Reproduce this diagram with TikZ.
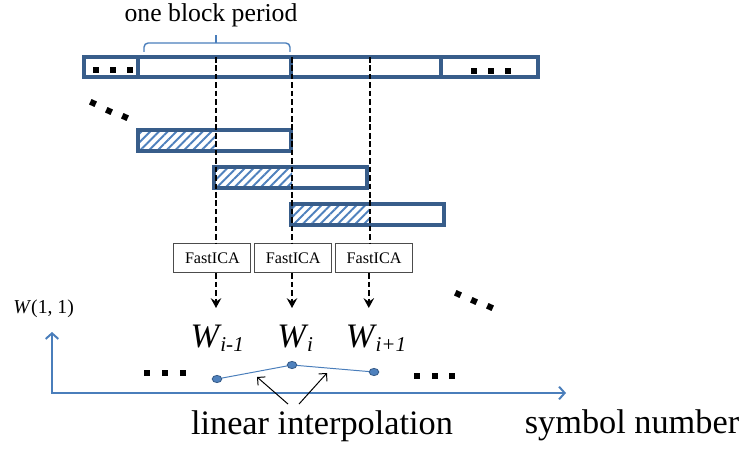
\documentclass[tikz,border=0pt]{standalone}
\usepackage{fontspec}
\setmainfont{Liberation Serif}
\usepackage{tikz}
\usetikzlibrary{shapes,positioning,calc,patterns.meta,decorations.pathreplacing,arrows.meta}
\definecolor{barblue}{RGB}{56,93,138}
\definecolor{lineblue}{RGB}{74,126,187}
\definecolor{hatchblue}{RGB}{79,129,189}

\tikzset{
    blockbar/.style={draw=barblue, line width=2.4pt},
    hatched/.style={pattern={Lines[angle=45,distance=4.4pt,line width=1.4pt]}, pattern color=hatchblue},
    sqdot/.style={fill=black, minimum size=0.15cm, inner sep=0pt},
    icabox/.style={draw=black!70, line width=0.6pt, minimum width=1.925cm, minimum height=0.725cm, inner sep=0pt, font=\fontsize{11.5}{13}\selectfont},
    guide/.style={line width=1.4pt, dash pattern=on 4pt off 2pt},
    wpoint/.style={ellipse, fill=hatchblue, draw=barblue, line width=0.6pt, minimum width=0.24cm, minimum height=0.18cm, inner sep=0pt},
    axisline/.style={draw=lineblue, line width=1.4pt},
    bigtext/.style={font=\fontsize{24.4}{28}\selectfont},
}

\begin{document}
\begin{tikzpicture}
    \useasboundingbox (0,0) rectangle (18.625,11.2);

    % Top row of blocks
    \draw[blockbar] (2.1,9.275) rectangle (3.45,9.775);
    \draw[blockbar] (3.45,9.275) rectangle (7.275,9.775);
    \draw[blockbar] (7.275,9.275) rectangle (11.025,9.775);
    \draw[blockbar] (11.025,9.275) rectangle (13.45,9.775);
    \foreach \x in {2.4,2.825,3.25} \node[sqdot] at (\x,9.45) {};
    \foreach \x in {11.85,12.275,12.7} \node[sqdot] at (\x,9.425) {};

    % Block period
    \draw[lineblue, line width=1pt, rounded corners=3pt] (3.6,9.9) -- (3.6,10.125) -- (7.25,10.125) -- (7.25,9.9);
    \draw[lineblue, line width=1pt] (5.4,10.125) -- (5.4,10.325);
    \node[font=\fontsize{18.3}{22}\selectfont] (period) at (5.275,10.825) {one block period};

    % Sliding windows
    \foreach \x/\y in {3.45/7.425, 5.35/6.5, 7.275/5.575} {
        \fill[hatched] (\x,\y) rectangle ++(1.95,0.525);
        \draw[blockbar] (\x,\y) rectangle ++(3.825,0.525);
    }
    \foreach \x/\y in {2.325/8.625, 2.725/8.425, 3.125/8.275}
        \node[sqdot, rotate=-25] at (\x,\y) {};

    % FastICA stages
    \node[icabox] (ica1) at (5.31,4.74) {FastICA};
    \node[icabox, right=0.075cm of ica1] (ica2) {FastICA};
    \node[icabox, right=0.075cm of ica2] (ica3) {FastICA};

    \coordinate (s1) at (5.4,9.775);
    \coordinate (s2) at (7.3,9.775);
    \coordinate (s3) at (9.25,9.775);
    \draw[guide] (s1) -- (s1 |- ica1.north);
    \draw[guide] (s2) -- (s2 |- ica2.north);
    \draw[guide] (s3) -- (s3 |- ica3.north);

    \coordinate (t1) at (5.4,3.5);
    \coordinate (t2) at (7.3,3.5);
    \coordinate (t3) at (9.22,3.5);
    \draw[guide, -{Stealth[length=7pt,width=7.5pt,inset=2.5pt]}] (t1 |- ica1.south) -- (t1);
    \draw[guide, -{Stealth[length=7pt,width=7.5pt,inset=2.5pt]}] (t2 |- ica2.south) -- (t2);
    \draw[guide, -{Stealth[length=7pt,width=7.5pt,inset=2.5pt]}] (t3 |- ica3.south) -- (t3);

    % Estimated matrices
    \node[bigtext] (W1) at (5.43,2.75) {\textit{W}\kern-1pt\raisebox{-3pt}{\fontsize{15}{15}\selectfont\textit{i-1}}};
    \node[bigtext] (W2) at (7.38,2.75) {\textit{W}\kern-1pt\raisebox{-3pt}{\fontsize{15}{15}\selectfont\textit{i}}};
    \node[bigtext] (W3) at (9.4,2.75) {\textit{W}\kern-1pt\raisebox{-3pt}{\fontsize{15}{15}\selectfont\textit{i+1}}};
    \foreach \x/\y in {11.45/3.85, 11.85/3.675, 12.25/3.525}
        \node[sqdot, rotate=-25] at (\x,\y) {};

    % Axes
    \coordinate (origin) at (1.3,1.375);
    \coordinate (yend) at (1.3,2.9);
    \coordinate (xend) at (14.15,1.375);
    \draw[axisline, {Straight Barb[length=4pt,width=9pt]}-{Straight Barb[length=4pt,width=9pt]}] (yend) -- (origin) -- (xend);
    \node[font=\fontsize{14}{16}\selectfont] (wlabel) at (1.09,3.475) {\textit{W}(1, 1)};
    \node[bigtext, anchor=base] (symnum) at (15.8,0.37) {symbol number};

    % Interpolated points
    \node[wpoint] (p1) at (5.425,1.725) {};
    \node[wpoint] (p2) at (7.3,2.075) {};
    \node[wpoint] (p3) at (9.35,1.9) {};
    \draw[lineblue, line width=0.7pt] (p1) -- (p2) -- (p3);
    \foreach \x in {3.675,4.125,4.575} \node[sqdot, minimum size=0.17cm] at (\x,1.875) {};
    \foreach \x in {10.425,10.875,11.3} \node[sqdot, minimum size=0.17cm] at (\x,1.8) {};

    \node[bigtext, anchor=base] (interp) at (8.05,0.33) {linear interpolation};
    \coordinate (a1) at (6.425,1.775);
    \coordinate (a2) at (8.175,1.875);
    \draw[line width=0.7pt, -{Straight Barb[length=4pt,width=8pt]}] ([xshift=-0.85cm,yshift=0.05cm]interp.north) -- (a1);
    \draw[line width=0.7pt, -{Straight Barb[length=4pt,width=8pt]}] ([xshift=-0.575cm,yshift=0.05cm]interp.north) -- (a2);
\end{tikzpicture}
\end{document}
